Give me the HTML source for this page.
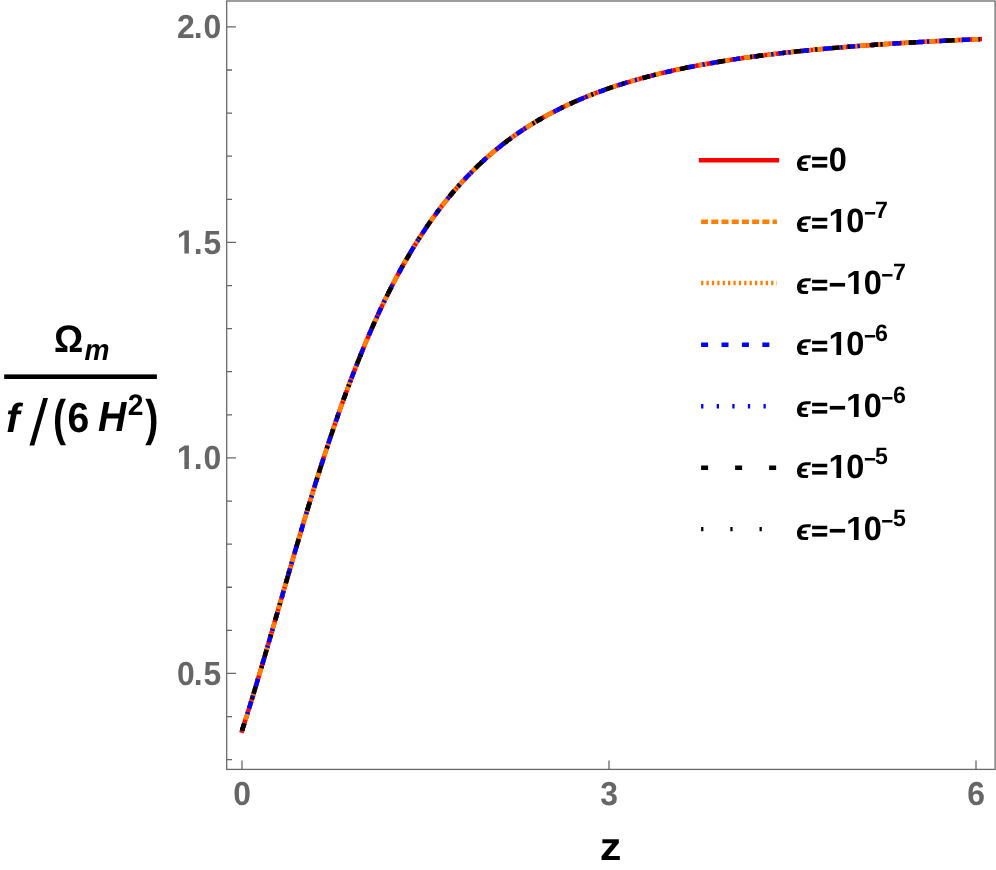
<!DOCTYPE html>
<html><head><meta charset="utf-8"><title>plot</title>
<style>
html,body{margin:0;padding:0;background:#fff;}
body{width:996px;height:870px;overflow:hidden;}
svg{display:block;will-change:transform;}
svg text{font-family:"Liberation Sans",sans-serif;font-weight:bold;text-rendering:geometricPrecision;}
</style></head><body>
<svg width="996" height="870" viewBox="0 0 996 870">
<rect width="996" height="870" fill="#fff"/>
<defs><clipPath id="c1"><path d="M-1,-30H20V-4.7H-1Z"/></clipPath></defs>
<rect x="226.7" y="1.0" width="768.40" height="768.40" fill="none" stroke="#666666" stroke-width="1.27"/>
<path d="M226.7,759.65h5.3 M226.7,716.55h5.3 M226.7,673.44h9.2 M226.7,630.34h5.3 M226.7,587.24h5.3 M226.7,544.14h5.3 M226.7,501.03h5.3 M226.7,457.93h9.2 M226.7,414.83h5.3 M226.7,371.72h5.3 M226.7,328.62h5.3 M226.7,285.52h5.3 M226.7,242.41h9.2 M226.7,199.31h5.3 M226.7,156.21h5.3 M226.7,113.11h5.3 M226.7,70.00h5.3 M226.7,26.90h9.2 M242.00,769.4v-8.8 M609.00,769.4v-8.8 M976.00,769.4v-8.8" fill="none" stroke="#666666" stroke-width="1.27"/>
<text transform="translate(221.30,38.00) scale(0.995,1.04)" font-size="32" fill="#666666" text-anchor="end">0</text>
<text transform="translate(202.59,38.00) scale(0.995,1.04)" font-size="32" fill="#666666" text-anchor="end">.</text>
<text transform="translate(194.74,38.00) scale(0.995,1.04)" font-size="32" fill="#666666" text-anchor="end">2</text>
<text transform="translate(221.30,253.51) scale(0.995,1.04)" font-size="32" fill="#666666" text-anchor="end">5</text>
<text transform="translate(202.59,253.51) scale(0.995,1.04)" font-size="32" fill="#666666" text-anchor="end">.</text>
<g transform="translate(176.74,253.51) scale(1.0249,1.0712)"><text font-size="32" fill="#666666" clip-path="url(#c1)">1</text><rect x="7.47" y="-5.2" width="4.39" height="5.2" fill="#666666"/></g>
<text transform="translate(221.30,469.03) scale(0.995,1.04)" font-size="32" fill="#666666" text-anchor="end">0</text>
<text transform="translate(202.59,469.03) scale(0.995,1.04)" font-size="32" fill="#666666" text-anchor="end">.</text>
<g transform="translate(176.74,469.03) scale(1.0249,1.0712)"><text font-size="32" fill="#666666" clip-path="url(#c1)">1</text><rect x="7.47" y="-5.2" width="4.39" height="5.2" fill="#666666"/></g>
<text transform="translate(221.30,684.54) scale(0.995,1.04)" font-size="32" fill="#666666" text-anchor="end">5</text>
<text transform="translate(202.59,684.54) scale(0.995,1.04)" font-size="32" fill="#666666" text-anchor="end">.</text>
<text transform="translate(194.74,684.54) scale(0.995,1.04)" font-size="32" fill="#666666" text-anchor="end">0</text>
<text transform="translate(242.00,804.60) scale(0.995,1.04)" font-size="32" fill="#666666" text-anchor="middle">0</text>
<text transform="translate(609.00,804.60) scale(0.995,1.04)" font-size="32" fill="#666666" text-anchor="middle">3</text>
<text transform="translate(976.00,804.60) scale(0.995,1.04)" font-size="32" fill="#666666" text-anchor="middle">6</text>
<text transform="translate(610.70,859.80) scale(1.07,0.97)" font-size="40.5" fill="#000" text-anchor="middle">z</text>
<rect x="4.2" y="374.4" width="152.7" height="4.6" fill="#000"/>
<text transform="translate(53.90,351.95) scale(0.95,1.0)" font-size="38.4" fill="#000">Ω</text>
<text transform="translate(84.60,359.95) scale(1.015,1.083)" font-size="27.7" fill="#000" font-style="italic">m</text>
<text transform="translate(5.95,432.00) scale(1.075,1.057)" font-size="38.4" fill="#000" font-style="italic">f</text>
<polygon points="29.5,445.4 34.3,445.4 48.0,398.0 43.2,398.0" fill="#000"/>
<text transform="translate(52.90,435.10) scale(1.02,1.3)" font-size="38.4" fill="#000">(</text>
<text transform="translate(67.45,431.50) scale(1.02,1.093)" font-size="38.4" fill="#000">6</text>
<text transform="translate(98.10,431.30) scale(1.02,1.1)" font-size="38.4" fill="#000" font-style="italic">H</text>
<text transform="translate(127.70,415.00) scale(1.02,1.075)" font-size="27.7" fill="#000">2</text>
<text transform="translate(145.20,435.10) scale(1.03,1.3)" font-size="38.4" fill="#000">)</text>
<path d="M242.00,730.61 L243.48,726.04 L244.96,721.42 L246.44,716.75 L247.91,712.05 L249.39,707.30 L250.87,702.52 L252.35,697.71 L253.83,692.86 L255.31,687.97 L256.78,683.06 L258.26,678.12 L259.74,673.15 L261.22,668.16 L262.70,663.15 L264.18,658.12 L265.65,653.07 L267.13,648.00 L268.61,642.91 L270.09,637.82 L271.57,632.71 L273.05,627.59 L274.52,622.47 L276.00,617.34 L277.48,612.20 L278.96,607.07 L280.44,601.93 L281.92,596.79 L283.39,591.66 L284.87,586.53 L286.35,581.41 L287.83,576.29 L289.31,571.18 L290.79,566.08 L292.26,561.00 L293.74,555.92 L295.22,550.86 L296.70,545.82 L298.18,540.79 L299.66,535.78 L301.13,530.79 L302.61,525.82 L304.09,520.88 L305.57,515.95 L307.05,511.05 L308.53,506.17 L310.00,501.32 L311.48,496.49 L312.96,491.69 L314.44,486.92 L315.92,482.18 L317.40,477.47 L318.88,472.78 L320.35,468.13 L321.83,463.51 L323.31,458.92 L324.79,454.37 L326.27,449.85 L327.75,445.36 L329.22,440.90 L330.70,436.49 L332.18,432.10 L333.66,427.75 L335.14,423.44 L336.62,419.16 L338.09,414.92 L339.57,410.72 L341.05,406.55 L342.53,402.42 L344.01,398.33 L345.49,394.28 L346.96,390.26 L348.44,386.28 L349.92,382.34 L351.40,378.44 L352.88,374.57 L354.36,370.74 L355.83,366.95 L357.31,363.20 L358.79,359.49 L360.27,355.81 L361.75,352.18 L363.23,348.58 L364.70,345.01 L366.18,341.49 L367.66,338.00 L369.14,334.55 L370.62,331.14 L372.10,327.76 L373.57,324.42 L375.05,321.12 L376.53,317.86 L378.01,314.63 L379.49,311.43 L380.97,308.28 L382.44,305.15 L383.92,302.07 L385.40,299.02 L386.88,296.00 L388.36,293.02 L389.84,290.07 L391.31,287.16 L392.79,284.28 L394.27,281.44 L395.75,278.62 L397.23,275.85 L398.71,273.10 L400.19,270.39 L401.66,267.70 L403.14,265.05 L404.62,262.44 L406.10,259.85 L407.58,257.29 L409.06,254.77 L410.53,252.28 L412.01,249.81 L413.49,247.38 L414.97,244.97 L416.45,242.60 L417.93,240.25 L419.40,237.93 L420.88,235.64 L422.36,233.38 L423.84,231.14 L425.32,228.94 L426.80,226.76 L428.27,224.60 L429.75,222.48 L431.23,220.37 L432.71,218.30 L434.19,216.25 L435.67,214.22 L437.14,212.23 L438.62,210.25 L440.10,208.30 L441.58,206.37 L443.06,204.47 L444.54,202.59 L446.01,200.74 L447.49,198.90 L448.97,197.09 L450.45,195.30 L451.93,193.54 L453.41,191.79 L454.88,190.07 L456.36,188.37 L457.84,186.69 L459.32,185.03 L460.80,183.39 L462.28,181.77 L463.75,180.17 L465.23,178.59 L466.71,177.03 L468.19,175.49 L469.67,173.97 L471.15,172.46 L472.63,170.98 L474.10,169.51 L475.58,168.06 L477.06,166.63 L478.54,165.22 L480.02,163.82 L481.50,162.44 L482.97,161.08 L484.45,159.73 L485.93,158.40 L487.41,157.09 L488.89,155.79 L490.37,154.51 L491.84,153.24 L493.32,151.99 L494.80,150.75 L496.28,149.53 L497.76,148.33 L499.24,147.14 L500.71,145.96 L502.19,144.79 L503.67,143.65 L505.15,142.51 L506.63,141.39 L508.11,140.28 L509.58,139.18 L511.06,138.10 L512.54,137.03 L514.02,135.98 L515.50,134.93 L516.98,133.90 L518.45,132.88 L519.93,131.87 L521.41,130.88 L522.89,129.89 L524.37,128.92 L525.85,127.96 L527.32,127.01 L528.80,126.07 L530.28,125.14 L531.76,124.23 L533.24,123.32 L534.72,122.43 L536.19,121.54 L537.67,120.67 L539.15,119.80 L540.63,118.95 L542.11,118.10 L543.59,117.26 L545.07,116.44 L546.54,115.62 L548.02,114.82 L549.50,114.02 L550.98,113.23 L552.46,112.45 L553.94,111.68 L555.41,110.92 L556.89,110.16 L558.37,109.42 L559.85,108.68 L561.33,107.95 L562.81,107.23 L564.28,106.52 L565.76,105.82 L567.24,105.12 L568.72,104.43 L570.20,103.75 L571.68,103.08 L573.15,102.42 L574.63,101.76 L576.11,101.11 L577.59,100.46 L579.07,99.83 L580.55,99.20 L582.02,98.57 L583.50,97.96 L584.98,97.35 L586.46,96.74 L587.94,96.15 L589.42,95.56 L590.89,94.98 L592.37,94.40 L593.85,93.83 L595.33,93.26 L596.81,92.71 L598.29,92.15 L599.76,91.61 L601.24,91.07 L602.72,90.53 L604.20,90.00 L605.68,89.48 L607.16,88.96 L608.63,88.45 L610.11,87.94 L611.59,87.44 L613.07,86.94 L614.55,86.45 L616.03,85.96 L617.50,85.48 L618.98,85.01 L620.46,84.54 L621.94,84.07 L623.42,83.61 L624.90,83.15 L626.38,82.70 L627.85,82.25 L629.33,81.81 L630.81,81.37 L632.29,80.94 L633.77,80.51 L635.25,80.08 L636.72,79.66 L638.20,79.25 L639.68,78.84 L641.16,78.43 L642.64,78.02 L644.12,77.63 L645.59,77.23 L647.07,76.84 L648.55,76.45 L650.03,76.07 L651.51,75.69 L652.99,75.31 L654.46,74.94 L655.94,74.57 L657.42,74.20 L658.90,73.84 L660.38,73.48 L661.86,73.13 L663.33,72.78 L664.81,72.43 L666.29,72.09 L667.77,71.75 L669.25,71.41 L670.73,71.08 L672.20,70.74 L673.68,70.42 L675.16,70.09 L676.64,69.77 L678.12,69.45 L679.60,69.14 L681.07,68.83 L682.55,68.52 L684.03,68.21 L685.51,67.91 L686.99,67.61 L688.47,67.31 L689.94,67.01 L691.42,66.72 L692.90,66.43 L694.38,66.15 L695.86,65.86 L697.34,65.58 L698.82,65.30 L700.29,65.03 L701.77,64.75 L703.25,64.48 L704.73,64.21 L706.21,63.95 L707.69,63.69 L709.16,63.42 L710.64,63.17 L712.12,62.91 L713.60,62.66 L715.08,62.40 L716.56,62.16 L718.03,61.91 L719.51,61.66 L720.99,61.42 L722.47,61.18 L723.95,60.94 L725.43,60.71 L726.90,60.47 L728.38,60.24 L729.86,60.01 L731.34,59.78 L732.82,59.56 L734.30,59.34 L735.77,59.11 L737.25,58.89 L738.73,58.68 L740.21,58.46 L741.69,58.25 L743.17,58.04 L744.64,57.83 L746.12,57.62 L747.60,57.41 L749.08,57.21 L750.56,57.00 L752.04,56.80 L753.51,56.60 L754.99,56.41 L756.47,56.21 L757.95,56.02 L759.43,55.82 L760.91,55.63 L762.38,55.44 L763.86,55.26 L765.34,55.07 L766.82,54.89 L768.30,54.70 L769.78,54.52 L771.26,54.34 L772.73,54.16 L774.21,53.99 L775.69,53.81 L777.17,53.64 L778.65,53.47 L780.13,53.30 L781.60,53.13 L783.08,52.96 L784.56,52.79 L786.04,52.63 L787.52,52.46 L789.00,52.30 L790.47,52.14 L791.95,51.98 L793.43,51.82 L794.91,51.66 L796.39,51.51 L797.87,51.35 L799.34,51.20 L800.82,51.05 L802.30,50.90 L803.78,50.75 L805.26,50.60 L806.74,50.45 L808.21,50.31 L809.69,50.16 L811.17,50.02 L812.65,49.88 L814.13,49.74 L815.61,49.60 L817.08,49.46 L818.56,49.32 L820.04,49.18 L821.52,49.05 L823.00,48.91 L824.48,48.78 L825.95,48.65 L827.43,48.51 L828.91,48.38 L830.39,48.25 L831.87,48.13 L833.35,48.00 L834.82,47.87 L836.30,47.75 L837.78,47.62 L839.26,47.50 L840.74,47.38 L842.22,47.26 L843.70,47.14 L845.17,47.02 L846.65,46.90 L848.13,46.78 L849.61,46.66 L851.09,46.55 L852.57,46.43 L854.04,46.32 L855.52,46.20 L857.00,46.09 L858.48,45.98 L859.96,45.87 L861.44,45.76 L862.91,45.65 L864.39,45.54 L865.87,45.44 L867.35,45.33 L868.83,45.22 L870.31,45.12 L871.78,45.01 L873.26,44.91 L874.74,44.81 L876.22,44.71 L877.70,44.60 L879.18,44.50 L880.65,44.40 L882.13,44.31 L883.61,44.21 L885.09,44.11 L886.57,44.01 L888.05,43.92 L889.52,43.82 L891.00,43.73 L892.48,43.63 L893.96,43.54 L895.44,43.45 L896.92,43.36 L898.39,43.26 L899.87,43.17 L901.35,43.08 L902.83,43.00 L904.31,42.91 L905.79,42.82 L907.26,42.73 L908.74,42.64 L910.22,42.56 L911.70,42.47 L913.18,42.39 L914.66,42.30 L916.13,42.22 L917.61,42.14 L919.09,42.05 L920.57,41.97 L922.05,41.89 L923.53,41.81 L925.01,41.73 L926.48,41.65 L927.96,41.57 L929.44,41.49 L930.92,41.42 L932.40,41.34 L933.88,41.26 L935.35,41.19 L936.83,41.11 L938.31,41.03 L939.79,40.96 L941.27,40.89 L942.75,40.81 L944.22,40.74 L945.70,40.67 L947.18,40.59 L948.66,40.52 L950.14,40.45 L951.62,40.38 L953.09,40.31 L954.57,40.24 L956.05,40.17 L957.53,40.10 L959.01,40.03 L960.49,39.97 L961.96,39.90 L963.44,39.83 L964.92,39.77 L966.40,39.70 L967.88,39.63 L969.36,39.57 L970.83,39.50 L972.31,39.44 L973.79,39.38 L975.27,39.31 L976.75,39.25 L978.23,39.19 L979.70,39.13" fill="none" stroke="#ff0000" stroke-width="4.5" stroke-linejoin="round" stroke-linecap="square"/>
<path d="M242.00,730.61 L243.48,726.04 L244.96,721.42 L246.44,716.75 L247.91,712.05 L249.39,707.30 L250.87,702.52 L252.35,697.71 L253.83,692.86 L255.31,687.97 L256.78,683.06 L258.26,678.12 L259.74,673.15 L261.22,668.16 L262.70,663.15 L264.18,658.12 L265.65,653.07 L267.13,648.00 L268.61,642.91 L270.09,637.82 L271.57,632.71 L273.05,627.59 L274.52,622.47 L276.00,617.34 L277.48,612.20 L278.96,607.07 L280.44,601.93 L281.92,596.79 L283.39,591.66 L284.87,586.53 L286.35,581.41 L287.83,576.29 L289.31,571.18 L290.79,566.08 L292.26,561.00 L293.74,555.92 L295.22,550.86 L296.70,545.82 L298.18,540.79 L299.66,535.78 L301.13,530.79 L302.61,525.82 L304.09,520.88 L305.57,515.95 L307.05,511.05 L308.53,506.17 L310.00,501.32 L311.48,496.49 L312.96,491.69 L314.44,486.92 L315.92,482.18 L317.40,477.47 L318.88,472.78 L320.35,468.13 L321.83,463.51 L323.31,458.92 L324.79,454.37 L326.27,449.85 L327.75,445.36 L329.22,440.90 L330.70,436.49 L332.18,432.10 L333.66,427.75 L335.14,423.44 L336.62,419.16 L338.09,414.92 L339.57,410.72 L341.05,406.55 L342.53,402.42 L344.01,398.33 L345.49,394.28 L346.96,390.26 L348.44,386.28 L349.92,382.34 L351.40,378.44 L352.88,374.57 L354.36,370.74 L355.83,366.95 L357.31,363.20 L358.79,359.49 L360.27,355.81 L361.75,352.18 L363.23,348.58 L364.70,345.01 L366.18,341.49 L367.66,338.00 L369.14,334.55 L370.62,331.14 L372.10,327.76 L373.57,324.42 L375.05,321.12 L376.53,317.86 L378.01,314.63 L379.49,311.43 L380.97,308.28 L382.44,305.15 L383.92,302.07 L385.40,299.02 L386.88,296.00 L388.36,293.02 L389.84,290.07 L391.31,287.16 L392.79,284.28 L394.27,281.44 L395.75,278.62 L397.23,275.85 L398.71,273.10 L400.19,270.39 L401.66,267.70 L403.14,265.05 L404.62,262.44 L406.10,259.85 L407.58,257.29 L409.06,254.77 L410.53,252.28 L412.01,249.81 L413.49,247.38 L414.97,244.97 L416.45,242.60 L417.93,240.25 L419.40,237.93 L420.88,235.64 L422.36,233.38 L423.84,231.14 L425.32,228.94 L426.80,226.76 L428.27,224.60 L429.75,222.48 L431.23,220.37 L432.71,218.30 L434.19,216.25 L435.67,214.22 L437.14,212.23 L438.62,210.25 L440.10,208.30 L441.58,206.37 L443.06,204.47 L444.54,202.59 L446.01,200.74 L447.49,198.90 L448.97,197.09 L450.45,195.30 L451.93,193.54 L453.41,191.79 L454.88,190.07 L456.36,188.37 L457.84,186.69 L459.32,185.03 L460.80,183.39 L462.28,181.77 L463.75,180.17 L465.23,178.59 L466.71,177.03 L468.19,175.49 L469.67,173.97 L471.15,172.46 L472.63,170.98 L474.10,169.51 L475.58,168.06 L477.06,166.63 L478.54,165.22 L480.02,163.82 L481.50,162.44 L482.97,161.08 L484.45,159.73 L485.93,158.40 L487.41,157.09 L488.89,155.79 L490.37,154.51 L491.84,153.24 L493.32,151.99 L494.80,150.75 L496.28,149.53 L497.76,148.33 L499.24,147.14 L500.71,145.96 L502.19,144.79 L503.67,143.65 L505.15,142.51 L506.63,141.39 L508.11,140.28 L509.58,139.18 L511.06,138.10 L512.54,137.03 L514.02,135.98 L515.50,134.93 L516.98,133.90 L518.45,132.88 L519.93,131.87 L521.41,130.88 L522.89,129.89 L524.37,128.92 L525.85,127.96 L527.32,127.01 L528.80,126.07 L530.28,125.14 L531.76,124.23 L533.24,123.32 L534.72,122.43 L536.19,121.54 L537.67,120.67 L539.15,119.80 L540.63,118.95 L542.11,118.10 L543.59,117.26 L545.07,116.44 L546.54,115.62 L548.02,114.82 L549.50,114.02 L550.98,113.23 L552.46,112.45 L553.94,111.68 L555.41,110.92 L556.89,110.16 L558.37,109.42 L559.85,108.68 L561.33,107.95 L562.81,107.23 L564.28,106.52 L565.76,105.82 L567.24,105.12 L568.72,104.43 L570.20,103.75 L571.68,103.08 L573.15,102.42 L574.63,101.76 L576.11,101.11 L577.59,100.46 L579.07,99.83 L580.55,99.20 L582.02,98.57 L583.50,97.96 L584.98,97.35 L586.46,96.74 L587.94,96.15 L589.42,95.56 L590.89,94.98 L592.37,94.40 L593.85,93.83 L595.33,93.26 L596.81,92.71 L598.29,92.15 L599.76,91.61 L601.24,91.07 L602.72,90.53 L604.20,90.00 L605.68,89.48 L607.16,88.96 L608.63,88.45 L610.11,87.94 L611.59,87.44 L613.07,86.94 L614.55,86.45 L616.03,85.96 L617.50,85.48 L618.98,85.01 L620.46,84.54 L621.94,84.07 L623.42,83.61 L624.90,83.15 L626.38,82.70 L627.85,82.25 L629.33,81.81 L630.81,81.37 L632.29,80.94 L633.77,80.51 L635.25,80.08 L636.72,79.66 L638.20,79.25 L639.68,78.84 L641.16,78.43 L642.64,78.02 L644.12,77.63 L645.59,77.23 L647.07,76.84 L648.55,76.45 L650.03,76.07 L651.51,75.69 L652.99,75.31 L654.46,74.94 L655.94,74.57 L657.42,74.20 L658.90,73.84 L660.38,73.48 L661.86,73.13 L663.33,72.78 L664.81,72.43 L666.29,72.09 L667.77,71.75 L669.25,71.41 L670.73,71.08 L672.20,70.74 L673.68,70.42 L675.16,70.09 L676.64,69.77 L678.12,69.45 L679.60,69.14 L681.07,68.83 L682.55,68.52 L684.03,68.21 L685.51,67.91 L686.99,67.61 L688.47,67.31 L689.94,67.01 L691.42,66.72 L692.90,66.43 L694.38,66.15 L695.86,65.86 L697.34,65.58 L698.82,65.30 L700.29,65.03 L701.77,64.75 L703.25,64.48 L704.73,64.21 L706.21,63.95 L707.69,63.69 L709.16,63.42 L710.64,63.17 L712.12,62.91 L713.60,62.66 L715.08,62.40 L716.56,62.16 L718.03,61.91 L719.51,61.66 L720.99,61.42 L722.47,61.18 L723.95,60.94 L725.43,60.71 L726.90,60.47 L728.38,60.24 L729.86,60.01 L731.34,59.78 L732.82,59.56 L734.30,59.34 L735.77,59.11 L737.25,58.89 L738.73,58.68 L740.21,58.46 L741.69,58.25 L743.17,58.04 L744.64,57.83 L746.12,57.62 L747.60,57.41 L749.08,57.21 L750.56,57.00 L752.04,56.80 L753.51,56.60 L754.99,56.41 L756.47,56.21 L757.95,56.02 L759.43,55.82 L760.91,55.63 L762.38,55.44 L763.86,55.26 L765.34,55.07 L766.82,54.89 L768.30,54.70 L769.78,54.52 L771.26,54.34 L772.73,54.16 L774.21,53.99 L775.69,53.81 L777.17,53.64 L778.65,53.47 L780.13,53.30 L781.60,53.13 L783.08,52.96 L784.56,52.79 L786.04,52.63 L787.52,52.46 L789.00,52.30 L790.47,52.14 L791.95,51.98 L793.43,51.82 L794.91,51.66 L796.39,51.51 L797.87,51.35 L799.34,51.20 L800.82,51.05 L802.30,50.90 L803.78,50.75 L805.26,50.60 L806.74,50.45 L808.21,50.31 L809.69,50.16 L811.17,50.02 L812.65,49.88 L814.13,49.74 L815.61,49.60 L817.08,49.46 L818.56,49.32 L820.04,49.18 L821.52,49.05 L823.00,48.91 L824.48,48.78 L825.95,48.65 L827.43,48.51 L828.91,48.38 L830.39,48.25 L831.87,48.13 L833.35,48.00 L834.82,47.87 L836.30,47.75 L837.78,47.62 L839.26,47.50 L840.74,47.38 L842.22,47.26 L843.70,47.14 L845.17,47.02 L846.65,46.90 L848.13,46.78 L849.61,46.66 L851.09,46.55 L852.57,46.43 L854.04,46.32 L855.52,46.20 L857.00,46.09 L858.48,45.98 L859.96,45.87 L861.44,45.76 L862.91,45.65 L864.39,45.54 L865.87,45.44 L867.35,45.33 L868.83,45.22 L870.31,45.12 L871.78,45.01 L873.26,44.91 L874.74,44.81 L876.22,44.71 L877.70,44.60 L879.18,44.50 L880.65,44.40 L882.13,44.31 L883.61,44.21 L885.09,44.11 L886.57,44.01 L888.05,43.92 L889.52,43.82 L891.00,43.73 L892.48,43.63 L893.96,43.54 L895.44,43.45 L896.92,43.36 L898.39,43.26 L899.87,43.17 L901.35,43.08 L902.83,43.00 L904.31,42.91 L905.79,42.82 L907.26,42.73 L908.74,42.64 L910.22,42.56 L911.70,42.47 L913.18,42.39 L914.66,42.30 L916.13,42.22 L917.61,42.14 L919.09,42.05 L920.57,41.97 L922.05,41.89 L923.53,41.81 L925.01,41.73 L926.48,41.65 L927.96,41.57 L929.44,41.49 L930.92,41.42 L932.40,41.34 L933.88,41.26 L935.35,41.19 L936.83,41.11 L938.31,41.03 L939.79,40.96 L941.27,40.89 L942.75,40.81 L944.22,40.74 L945.70,40.67 L947.18,40.59 L948.66,40.52 L950.14,40.45 L951.62,40.38 L953.09,40.31 L954.57,40.24 L956.05,40.17 L957.53,40.10 L959.01,40.03 L960.49,39.97 L961.96,39.90 L963.44,39.83 L964.92,39.77 L966.40,39.70 L967.88,39.63 L969.36,39.57 L970.83,39.50 L972.31,39.44 L973.79,39.38 L975.27,39.31 L976.75,39.25 L978.23,39.19 L979.70,39.13" fill="none" stroke="#ff8000" stroke-width="4.5" stroke-linejoin="round" stroke-dasharray="7.75 3.776"/>
<path d="M242.00,730.61 L243.48,726.04 L244.96,721.42 L246.44,716.75 L247.91,712.05 L249.39,707.30 L250.87,702.52 L252.35,697.71 L253.83,692.86 L255.31,687.97 L256.78,683.06 L258.26,678.12 L259.74,673.15 L261.22,668.16 L262.70,663.15 L264.18,658.12 L265.65,653.07 L267.13,648.00 L268.61,642.91 L270.09,637.82 L271.57,632.71 L273.05,627.59 L274.52,622.47 L276.00,617.34 L277.48,612.20 L278.96,607.07 L280.44,601.93 L281.92,596.79 L283.39,591.66 L284.87,586.53 L286.35,581.41 L287.83,576.29 L289.31,571.18 L290.79,566.08 L292.26,561.00 L293.74,555.92 L295.22,550.86 L296.70,545.82 L298.18,540.79 L299.66,535.78 L301.13,530.79 L302.61,525.82 L304.09,520.88 L305.57,515.95 L307.05,511.05 L308.53,506.17 L310.00,501.32 L311.48,496.49 L312.96,491.69 L314.44,486.92 L315.92,482.18 L317.40,477.47 L318.88,472.78 L320.35,468.13 L321.83,463.51 L323.31,458.92 L324.79,454.37 L326.27,449.85 L327.75,445.36 L329.22,440.90 L330.70,436.49 L332.18,432.10 L333.66,427.75 L335.14,423.44 L336.62,419.16 L338.09,414.92 L339.57,410.72 L341.05,406.55 L342.53,402.42 L344.01,398.33 L345.49,394.28 L346.96,390.26 L348.44,386.28 L349.92,382.34 L351.40,378.44 L352.88,374.57 L354.36,370.74 L355.83,366.95 L357.31,363.20 L358.79,359.49 L360.27,355.81 L361.75,352.18 L363.23,348.58 L364.70,345.01 L366.18,341.49 L367.66,338.00 L369.14,334.55 L370.62,331.14 L372.10,327.76 L373.57,324.42 L375.05,321.12 L376.53,317.86 L378.01,314.63 L379.49,311.43 L380.97,308.28 L382.44,305.15 L383.92,302.07 L385.40,299.02 L386.88,296.00 L388.36,293.02 L389.84,290.07 L391.31,287.16 L392.79,284.28 L394.27,281.44 L395.75,278.62 L397.23,275.85 L398.71,273.10 L400.19,270.39 L401.66,267.70 L403.14,265.05 L404.62,262.44 L406.10,259.85 L407.58,257.29 L409.06,254.77 L410.53,252.28 L412.01,249.81 L413.49,247.38 L414.97,244.97 L416.45,242.60 L417.93,240.25 L419.40,237.93 L420.88,235.64 L422.36,233.38 L423.84,231.14 L425.32,228.94 L426.80,226.76 L428.27,224.60 L429.75,222.48 L431.23,220.37 L432.71,218.30 L434.19,216.25 L435.67,214.22 L437.14,212.23 L438.62,210.25 L440.10,208.30 L441.58,206.37 L443.06,204.47 L444.54,202.59 L446.01,200.74 L447.49,198.90 L448.97,197.09 L450.45,195.30 L451.93,193.54 L453.41,191.79 L454.88,190.07 L456.36,188.37 L457.84,186.69 L459.32,185.03 L460.80,183.39 L462.28,181.77 L463.75,180.17 L465.23,178.59 L466.71,177.03 L468.19,175.49 L469.67,173.97 L471.15,172.46 L472.63,170.98 L474.10,169.51 L475.58,168.06 L477.06,166.63 L478.54,165.22 L480.02,163.82 L481.50,162.44 L482.97,161.08 L484.45,159.73 L485.93,158.40 L487.41,157.09 L488.89,155.79 L490.37,154.51 L491.84,153.24 L493.32,151.99 L494.80,150.75 L496.28,149.53 L497.76,148.33 L499.24,147.14 L500.71,145.96 L502.19,144.79 L503.67,143.65 L505.15,142.51 L506.63,141.39 L508.11,140.28 L509.58,139.18 L511.06,138.10 L512.54,137.03 L514.02,135.98 L515.50,134.93 L516.98,133.90 L518.45,132.88 L519.93,131.87 L521.41,130.88 L522.89,129.89 L524.37,128.92 L525.85,127.96 L527.32,127.01 L528.80,126.07 L530.28,125.14 L531.76,124.23 L533.24,123.32 L534.72,122.43 L536.19,121.54 L537.67,120.67 L539.15,119.80 L540.63,118.95 L542.11,118.10 L543.59,117.26 L545.07,116.44 L546.54,115.62 L548.02,114.82 L549.50,114.02 L550.98,113.23 L552.46,112.45 L553.94,111.68 L555.41,110.92 L556.89,110.16 L558.37,109.42 L559.85,108.68 L561.33,107.95 L562.81,107.23 L564.28,106.52 L565.76,105.82 L567.24,105.12 L568.72,104.43 L570.20,103.75 L571.68,103.08 L573.15,102.42 L574.63,101.76 L576.11,101.11 L577.59,100.46 L579.07,99.83 L580.55,99.20 L582.02,98.57 L583.50,97.96 L584.98,97.35 L586.46,96.74 L587.94,96.15 L589.42,95.56 L590.89,94.98 L592.37,94.40 L593.85,93.83 L595.33,93.26 L596.81,92.71 L598.29,92.15 L599.76,91.61 L601.24,91.07 L602.72,90.53 L604.20,90.00 L605.68,89.48 L607.16,88.96 L608.63,88.45 L610.11,87.94 L611.59,87.44 L613.07,86.94 L614.55,86.45 L616.03,85.96 L617.50,85.48 L618.98,85.01 L620.46,84.54 L621.94,84.07 L623.42,83.61 L624.90,83.15 L626.38,82.70 L627.85,82.25 L629.33,81.81 L630.81,81.37 L632.29,80.94 L633.77,80.51 L635.25,80.08 L636.72,79.66 L638.20,79.25 L639.68,78.84 L641.16,78.43 L642.64,78.02 L644.12,77.63 L645.59,77.23 L647.07,76.84 L648.55,76.45 L650.03,76.07 L651.51,75.69 L652.99,75.31 L654.46,74.94 L655.94,74.57 L657.42,74.20 L658.90,73.84 L660.38,73.48 L661.86,73.13 L663.33,72.78 L664.81,72.43 L666.29,72.09 L667.77,71.75 L669.25,71.41 L670.73,71.08 L672.20,70.74 L673.68,70.42 L675.16,70.09 L676.64,69.77 L678.12,69.45 L679.60,69.14 L681.07,68.83 L682.55,68.52 L684.03,68.21 L685.51,67.91 L686.99,67.61 L688.47,67.31 L689.94,67.01 L691.42,66.72 L692.90,66.43 L694.38,66.15 L695.86,65.86 L697.34,65.58 L698.82,65.30 L700.29,65.03 L701.77,64.75 L703.25,64.48 L704.73,64.21 L706.21,63.95 L707.69,63.69 L709.16,63.42 L710.64,63.17 L712.12,62.91 L713.60,62.66 L715.08,62.40 L716.56,62.16 L718.03,61.91 L719.51,61.66 L720.99,61.42 L722.47,61.18 L723.95,60.94 L725.43,60.71 L726.90,60.47 L728.38,60.24 L729.86,60.01 L731.34,59.78 L732.82,59.56 L734.30,59.34 L735.77,59.11 L737.25,58.89 L738.73,58.68 L740.21,58.46 L741.69,58.25 L743.17,58.04 L744.64,57.83 L746.12,57.62 L747.60,57.41 L749.08,57.21 L750.56,57.00 L752.04,56.80 L753.51,56.60 L754.99,56.41 L756.47,56.21 L757.95,56.02 L759.43,55.82 L760.91,55.63 L762.38,55.44 L763.86,55.26 L765.34,55.07 L766.82,54.89 L768.30,54.70 L769.78,54.52 L771.26,54.34 L772.73,54.16 L774.21,53.99 L775.69,53.81 L777.17,53.64 L778.65,53.47 L780.13,53.30 L781.60,53.13 L783.08,52.96 L784.56,52.79 L786.04,52.63 L787.52,52.46 L789.00,52.30 L790.47,52.14 L791.95,51.98 L793.43,51.82 L794.91,51.66 L796.39,51.51 L797.87,51.35 L799.34,51.20 L800.82,51.05 L802.30,50.90 L803.78,50.75 L805.26,50.60 L806.74,50.45 L808.21,50.31 L809.69,50.16 L811.17,50.02 L812.65,49.88 L814.13,49.74 L815.61,49.60 L817.08,49.46 L818.56,49.32 L820.04,49.18 L821.52,49.05 L823.00,48.91 L824.48,48.78 L825.95,48.65 L827.43,48.51 L828.91,48.38 L830.39,48.25 L831.87,48.13 L833.35,48.00 L834.82,47.87 L836.30,47.75 L837.78,47.62 L839.26,47.50 L840.74,47.38 L842.22,47.26 L843.70,47.14 L845.17,47.02 L846.65,46.90 L848.13,46.78 L849.61,46.66 L851.09,46.55 L852.57,46.43 L854.04,46.32 L855.52,46.20 L857.00,46.09 L858.48,45.98 L859.96,45.87 L861.44,45.76 L862.91,45.65 L864.39,45.54 L865.87,45.44 L867.35,45.33 L868.83,45.22 L870.31,45.12 L871.78,45.01 L873.26,44.91 L874.74,44.81 L876.22,44.71 L877.70,44.60 L879.18,44.50 L880.65,44.40 L882.13,44.31 L883.61,44.21 L885.09,44.11 L886.57,44.01 L888.05,43.92 L889.52,43.82 L891.00,43.73 L892.48,43.63 L893.96,43.54 L895.44,43.45 L896.92,43.36 L898.39,43.26 L899.87,43.17 L901.35,43.08 L902.83,43.00 L904.31,42.91 L905.79,42.82 L907.26,42.73 L908.74,42.64 L910.22,42.56 L911.70,42.47 L913.18,42.39 L914.66,42.30 L916.13,42.22 L917.61,42.14 L919.09,42.05 L920.57,41.97 L922.05,41.89 L923.53,41.81 L925.01,41.73 L926.48,41.65 L927.96,41.57 L929.44,41.49 L930.92,41.42 L932.40,41.34 L933.88,41.26 L935.35,41.19 L936.83,41.11 L938.31,41.03 L939.79,40.96 L941.27,40.89 L942.75,40.81 L944.22,40.74 L945.70,40.67 L947.18,40.59 L948.66,40.52 L950.14,40.45 L951.62,40.38 L953.09,40.31 L954.57,40.24 L956.05,40.17 L957.53,40.10 L959.01,40.03 L960.49,39.97 L961.96,39.90 L963.44,39.83 L964.92,39.77 L966.40,39.70 L967.88,39.63 L969.36,39.57 L970.83,39.50 L972.31,39.44 L973.79,39.38 L975.27,39.31 L976.75,39.25 L978.23,39.19 L979.70,39.13" fill="none" stroke="#ff8000" stroke-width="4.5" stroke-linejoin="round" stroke-dasharray="2.25 3.592"/>
<path d="M242.00,730.61 L243.48,726.04 L244.96,721.42 L246.44,716.75 L247.91,712.05 L249.39,707.30 L250.87,702.52 L252.35,697.71 L253.83,692.86 L255.31,687.97 L256.78,683.06 L258.26,678.12 L259.74,673.15 L261.22,668.16 L262.70,663.15 L264.18,658.12 L265.65,653.07 L267.13,648.00 L268.61,642.91 L270.09,637.82 L271.57,632.71 L273.05,627.59 L274.52,622.47 L276.00,617.34 L277.48,612.20 L278.96,607.07 L280.44,601.93 L281.92,596.79 L283.39,591.66 L284.87,586.53 L286.35,581.41 L287.83,576.29 L289.31,571.18 L290.79,566.08 L292.26,561.00 L293.74,555.92 L295.22,550.86 L296.70,545.82 L298.18,540.79 L299.66,535.78 L301.13,530.79 L302.61,525.82 L304.09,520.88 L305.57,515.95 L307.05,511.05 L308.53,506.17 L310.00,501.32 L311.48,496.49 L312.96,491.69 L314.44,486.92 L315.92,482.18 L317.40,477.47 L318.88,472.78 L320.35,468.13 L321.83,463.51 L323.31,458.92 L324.79,454.37 L326.27,449.85 L327.75,445.36 L329.22,440.90 L330.70,436.49 L332.18,432.10 L333.66,427.75 L335.14,423.44 L336.62,419.16 L338.09,414.92 L339.57,410.72 L341.05,406.55 L342.53,402.42 L344.01,398.33 L345.49,394.28 L346.96,390.26 L348.44,386.28 L349.92,382.34 L351.40,378.44 L352.88,374.57 L354.36,370.74 L355.83,366.95 L357.31,363.20 L358.79,359.49 L360.27,355.81 L361.75,352.18 L363.23,348.58 L364.70,345.01 L366.18,341.49 L367.66,338.00 L369.14,334.55 L370.62,331.14 L372.10,327.76 L373.57,324.42 L375.05,321.12 L376.53,317.86 L378.01,314.63 L379.49,311.43 L380.97,308.28 L382.44,305.15 L383.92,302.07 L385.40,299.02 L386.88,296.00 L388.36,293.02 L389.84,290.07 L391.31,287.16 L392.79,284.28 L394.27,281.44 L395.75,278.62 L397.23,275.85 L398.71,273.10 L400.19,270.39 L401.66,267.70 L403.14,265.05 L404.62,262.44 L406.10,259.85 L407.58,257.29 L409.06,254.77 L410.53,252.28 L412.01,249.81 L413.49,247.38 L414.97,244.97 L416.45,242.60 L417.93,240.25 L419.40,237.93 L420.88,235.64 L422.36,233.38 L423.84,231.14 L425.32,228.94 L426.80,226.76 L428.27,224.60 L429.75,222.48 L431.23,220.37 L432.71,218.30 L434.19,216.25 L435.67,214.22 L437.14,212.23 L438.62,210.25 L440.10,208.30 L441.58,206.37 L443.06,204.47 L444.54,202.59 L446.01,200.74 L447.49,198.90 L448.97,197.09 L450.45,195.30 L451.93,193.54 L453.41,191.79 L454.88,190.07 L456.36,188.37 L457.84,186.69 L459.32,185.03 L460.80,183.39 L462.28,181.77 L463.75,180.17 L465.23,178.59 L466.71,177.03 L468.19,175.49 L469.67,173.97 L471.15,172.46 L472.63,170.98 L474.10,169.51 L475.58,168.06 L477.06,166.63 L478.54,165.22 L480.02,163.82 L481.50,162.44 L482.97,161.08 L484.45,159.73 L485.93,158.40 L487.41,157.09 L488.89,155.79 L490.37,154.51 L491.84,153.24 L493.32,151.99 L494.80,150.75 L496.28,149.53 L497.76,148.33 L499.24,147.14 L500.71,145.96 L502.19,144.79 L503.67,143.65 L505.15,142.51 L506.63,141.39 L508.11,140.28 L509.58,139.18 L511.06,138.10 L512.54,137.03 L514.02,135.98 L515.50,134.93 L516.98,133.90 L518.45,132.88 L519.93,131.87 L521.41,130.88 L522.89,129.89 L524.37,128.92 L525.85,127.96 L527.32,127.01 L528.80,126.07 L530.28,125.14 L531.76,124.23 L533.24,123.32 L534.72,122.43 L536.19,121.54 L537.67,120.67 L539.15,119.80 L540.63,118.95 L542.11,118.10 L543.59,117.26 L545.07,116.44 L546.54,115.62 L548.02,114.82 L549.50,114.02 L550.98,113.23 L552.46,112.45 L553.94,111.68 L555.41,110.92 L556.89,110.16 L558.37,109.42 L559.85,108.68 L561.33,107.95 L562.81,107.23 L564.28,106.52 L565.76,105.82 L567.24,105.12 L568.72,104.43 L570.20,103.75 L571.68,103.08 L573.15,102.42 L574.63,101.76 L576.11,101.11 L577.59,100.46 L579.07,99.83 L580.55,99.20 L582.02,98.57 L583.50,97.96 L584.98,97.35 L586.46,96.74 L587.94,96.15 L589.42,95.56 L590.89,94.98 L592.37,94.40 L593.85,93.83 L595.33,93.26 L596.81,92.71 L598.29,92.15 L599.76,91.61 L601.24,91.07 L602.72,90.53 L604.20,90.00 L605.68,89.48 L607.16,88.96 L608.63,88.45 L610.11,87.94 L611.59,87.44 L613.07,86.94 L614.55,86.45 L616.03,85.96 L617.50,85.48 L618.98,85.01 L620.46,84.54 L621.94,84.07 L623.42,83.61 L624.90,83.15 L626.38,82.70 L627.85,82.25 L629.33,81.81 L630.81,81.37 L632.29,80.94 L633.77,80.51 L635.25,80.08 L636.72,79.66 L638.20,79.25 L639.68,78.84 L641.16,78.43 L642.64,78.02 L644.12,77.63 L645.59,77.23 L647.07,76.84 L648.55,76.45 L650.03,76.07 L651.51,75.69 L652.99,75.31 L654.46,74.94 L655.94,74.57 L657.42,74.20 L658.90,73.84 L660.38,73.48 L661.86,73.13 L663.33,72.78 L664.81,72.43 L666.29,72.09 L667.77,71.75 L669.25,71.41 L670.73,71.08 L672.20,70.74 L673.68,70.42 L675.16,70.09 L676.64,69.77 L678.12,69.45 L679.60,69.14 L681.07,68.83 L682.55,68.52 L684.03,68.21 L685.51,67.91 L686.99,67.61 L688.47,67.31 L689.94,67.01 L691.42,66.72 L692.90,66.43 L694.38,66.15 L695.86,65.86 L697.34,65.58 L698.82,65.30 L700.29,65.03 L701.77,64.75 L703.25,64.48 L704.73,64.21 L706.21,63.95 L707.69,63.69 L709.16,63.42 L710.64,63.17 L712.12,62.91 L713.60,62.66 L715.08,62.40 L716.56,62.16 L718.03,61.91 L719.51,61.66 L720.99,61.42 L722.47,61.18 L723.95,60.94 L725.43,60.71 L726.90,60.47 L728.38,60.24 L729.86,60.01 L731.34,59.78 L732.82,59.56 L734.30,59.34 L735.77,59.11 L737.25,58.89 L738.73,58.68 L740.21,58.46 L741.69,58.25 L743.17,58.04 L744.64,57.83 L746.12,57.62 L747.60,57.41 L749.08,57.21 L750.56,57.00 L752.04,56.80 L753.51,56.60 L754.99,56.41 L756.47,56.21 L757.95,56.02 L759.43,55.82 L760.91,55.63 L762.38,55.44 L763.86,55.26 L765.34,55.07 L766.82,54.89 L768.30,54.70 L769.78,54.52 L771.26,54.34 L772.73,54.16 L774.21,53.99 L775.69,53.81 L777.17,53.64 L778.65,53.47 L780.13,53.30 L781.60,53.13 L783.08,52.96 L784.56,52.79 L786.04,52.63 L787.52,52.46 L789.00,52.30 L790.47,52.14 L791.95,51.98 L793.43,51.82 L794.91,51.66 L796.39,51.51 L797.87,51.35 L799.34,51.20 L800.82,51.05 L802.30,50.90 L803.78,50.75 L805.26,50.60 L806.74,50.45 L808.21,50.31 L809.69,50.16 L811.17,50.02 L812.65,49.88 L814.13,49.74 L815.61,49.60 L817.08,49.46 L818.56,49.32 L820.04,49.18 L821.52,49.05 L823.00,48.91 L824.48,48.78 L825.95,48.65 L827.43,48.51 L828.91,48.38 L830.39,48.25 L831.87,48.13 L833.35,48.00 L834.82,47.87 L836.30,47.75 L837.78,47.62 L839.26,47.50 L840.74,47.38 L842.22,47.26 L843.70,47.14 L845.17,47.02 L846.65,46.90 L848.13,46.78 L849.61,46.66 L851.09,46.55 L852.57,46.43 L854.04,46.32 L855.52,46.20 L857.00,46.09 L858.48,45.98 L859.96,45.87 L861.44,45.76 L862.91,45.65 L864.39,45.54 L865.87,45.44 L867.35,45.33 L868.83,45.22 L870.31,45.12 L871.78,45.01 L873.26,44.91 L874.74,44.81 L876.22,44.71 L877.70,44.60 L879.18,44.50 L880.65,44.40 L882.13,44.31 L883.61,44.21 L885.09,44.11 L886.57,44.01 L888.05,43.92 L889.52,43.82 L891.00,43.73 L892.48,43.63 L893.96,43.54 L895.44,43.45 L896.92,43.36 L898.39,43.26 L899.87,43.17 L901.35,43.08 L902.83,43.00 L904.31,42.91 L905.79,42.82 L907.26,42.73 L908.74,42.64 L910.22,42.56 L911.70,42.47 L913.18,42.39 L914.66,42.30 L916.13,42.22 L917.61,42.14 L919.09,42.05 L920.57,41.97 L922.05,41.89 L923.53,41.81 L925.01,41.73 L926.48,41.65 L927.96,41.57 L929.44,41.49 L930.92,41.42 L932.40,41.34 L933.88,41.26 L935.35,41.19 L936.83,41.11 L938.31,41.03 L939.79,40.96 L941.27,40.89 L942.75,40.81 L944.22,40.74 L945.70,40.67 L947.18,40.59 L948.66,40.52 L950.14,40.45 L951.62,40.38 L953.09,40.31 L954.57,40.24 L956.05,40.17 L957.53,40.10 L959.01,40.03 L960.49,39.97 L961.96,39.90 L963.44,39.83 L964.92,39.77 L966.40,39.70 L967.88,39.63 L969.36,39.57 L970.83,39.50 L972.31,39.44 L973.79,39.38 L975.27,39.31 L976.75,39.25 L978.23,39.19 L979.70,39.13" fill="none" stroke="#0000ff" stroke-width="4.5" stroke-linejoin="round" stroke-dasharray="7.75 15.302"/>
<path d="M242.00,730.61 L243.48,726.04 L244.96,721.42 L246.44,716.75 L247.91,712.05 L249.39,707.30 L250.87,702.52 L252.35,697.71 L253.83,692.86 L255.31,687.97 L256.78,683.06 L258.26,678.12 L259.74,673.15 L261.22,668.16 L262.70,663.15 L264.18,658.12 L265.65,653.07 L267.13,648.00 L268.61,642.91 L270.09,637.82 L271.57,632.71 L273.05,627.59 L274.52,622.47 L276.00,617.34 L277.48,612.20 L278.96,607.07 L280.44,601.93 L281.92,596.79 L283.39,591.66 L284.87,586.53 L286.35,581.41 L287.83,576.29 L289.31,571.18 L290.79,566.08 L292.26,561.00 L293.74,555.92 L295.22,550.86 L296.70,545.82 L298.18,540.79 L299.66,535.78 L301.13,530.79 L302.61,525.82 L304.09,520.88 L305.57,515.95 L307.05,511.05 L308.53,506.17 L310.00,501.32 L311.48,496.49 L312.96,491.69 L314.44,486.92 L315.92,482.18 L317.40,477.47 L318.88,472.78 L320.35,468.13 L321.83,463.51 L323.31,458.92 L324.79,454.37 L326.27,449.85 L327.75,445.36 L329.22,440.90 L330.70,436.49 L332.18,432.10 L333.66,427.75 L335.14,423.44 L336.62,419.16 L338.09,414.92 L339.57,410.72 L341.05,406.55 L342.53,402.42 L344.01,398.33 L345.49,394.28 L346.96,390.26 L348.44,386.28 L349.92,382.34 L351.40,378.44 L352.88,374.57 L354.36,370.74 L355.83,366.95 L357.31,363.20 L358.79,359.49 L360.27,355.81 L361.75,352.18 L363.23,348.58 L364.70,345.01 L366.18,341.49 L367.66,338.00 L369.14,334.55 L370.62,331.14 L372.10,327.76 L373.57,324.42 L375.05,321.12 L376.53,317.86 L378.01,314.63 L379.49,311.43 L380.97,308.28 L382.44,305.15 L383.92,302.07 L385.40,299.02 L386.88,296.00 L388.36,293.02 L389.84,290.07 L391.31,287.16 L392.79,284.28 L394.27,281.44 L395.75,278.62 L397.23,275.85 L398.71,273.10 L400.19,270.39 L401.66,267.70 L403.14,265.05 L404.62,262.44 L406.10,259.85 L407.58,257.29 L409.06,254.77 L410.53,252.28 L412.01,249.81 L413.49,247.38 L414.97,244.97 L416.45,242.60 L417.93,240.25 L419.40,237.93 L420.88,235.64 L422.36,233.38 L423.84,231.14 L425.32,228.94 L426.80,226.76 L428.27,224.60 L429.75,222.48 L431.23,220.37 L432.71,218.30 L434.19,216.25 L435.67,214.22 L437.14,212.23 L438.62,210.25 L440.10,208.30 L441.58,206.37 L443.06,204.47 L444.54,202.59 L446.01,200.74 L447.49,198.90 L448.97,197.09 L450.45,195.30 L451.93,193.54 L453.41,191.79 L454.88,190.07 L456.36,188.37 L457.84,186.69 L459.32,185.03 L460.80,183.39 L462.28,181.77 L463.75,180.17 L465.23,178.59 L466.71,177.03 L468.19,175.49 L469.67,173.97 L471.15,172.46 L472.63,170.98 L474.10,169.51 L475.58,168.06 L477.06,166.63 L478.54,165.22 L480.02,163.82 L481.50,162.44 L482.97,161.08 L484.45,159.73 L485.93,158.40 L487.41,157.09 L488.89,155.79 L490.37,154.51 L491.84,153.24 L493.32,151.99 L494.80,150.75 L496.28,149.53 L497.76,148.33 L499.24,147.14 L500.71,145.96 L502.19,144.79 L503.67,143.65 L505.15,142.51 L506.63,141.39 L508.11,140.28 L509.58,139.18 L511.06,138.10 L512.54,137.03 L514.02,135.98 L515.50,134.93 L516.98,133.90 L518.45,132.88 L519.93,131.87 L521.41,130.88 L522.89,129.89 L524.37,128.92 L525.85,127.96 L527.32,127.01 L528.80,126.07 L530.28,125.14 L531.76,124.23 L533.24,123.32 L534.72,122.43 L536.19,121.54 L537.67,120.67 L539.15,119.80 L540.63,118.95 L542.11,118.10 L543.59,117.26 L545.07,116.44 L546.54,115.62 L548.02,114.82 L549.50,114.02 L550.98,113.23 L552.46,112.45 L553.94,111.68 L555.41,110.92 L556.89,110.16 L558.37,109.42 L559.85,108.68 L561.33,107.95 L562.81,107.23 L564.28,106.52 L565.76,105.82 L567.24,105.12 L568.72,104.43 L570.20,103.75 L571.68,103.08 L573.15,102.42 L574.63,101.76 L576.11,101.11 L577.59,100.46 L579.07,99.83 L580.55,99.20 L582.02,98.57 L583.50,97.96 L584.98,97.35 L586.46,96.74 L587.94,96.15 L589.42,95.56 L590.89,94.98 L592.37,94.40 L593.85,93.83 L595.33,93.26 L596.81,92.71 L598.29,92.15 L599.76,91.61 L601.24,91.07 L602.72,90.53 L604.20,90.00 L605.68,89.48 L607.16,88.96 L608.63,88.45 L610.11,87.94 L611.59,87.44 L613.07,86.94 L614.55,86.45 L616.03,85.96 L617.50,85.48 L618.98,85.01 L620.46,84.54 L621.94,84.07 L623.42,83.61 L624.90,83.15 L626.38,82.70 L627.85,82.25 L629.33,81.81 L630.81,81.37 L632.29,80.94 L633.77,80.51 L635.25,80.08 L636.72,79.66 L638.20,79.25 L639.68,78.84 L641.16,78.43 L642.64,78.02 L644.12,77.63 L645.59,77.23 L647.07,76.84 L648.55,76.45 L650.03,76.07 L651.51,75.69 L652.99,75.31 L654.46,74.94 L655.94,74.57 L657.42,74.20 L658.90,73.84 L660.38,73.48 L661.86,73.13 L663.33,72.78 L664.81,72.43 L666.29,72.09 L667.77,71.75 L669.25,71.41 L670.73,71.08 L672.20,70.74 L673.68,70.42 L675.16,70.09 L676.64,69.77 L678.12,69.45 L679.60,69.14 L681.07,68.83 L682.55,68.52 L684.03,68.21 L685.51,67.91 L686.99,67.61 L688.47,67.31 L689.94,67.01 L691.42,66.72 L692.90,66.43 L694.38,66.15 L695.86,65.86 L697.34,65.58 L698.82,65.30 L700.29,65.03 L701.77,64.75 L703.25,64.48 L704.73,64.21 L706.21,63.95 L707.69,63.69 L709.16,63.42 L710.64,63.17 L712.12,62.91 L713.60,62.66 L715.08,62.40 L716.56,62.16 L718.03,61.91 L719.51,61.66 L720.99,61.42 L722.47,61.18 L723.95,60.94 L725.43,60.71 L726.90,60.47 L728.38,60.24 L729.86,60.01 L731.34,59.78 L732.82,59.56 L734.30,59.34 L735.77,59.11 L737.25,58.89 L738.73,58.68 L740.21,58.46 L741.69,58.25 L743.17,58.04 L744.64,57.83 L746.12,57.62 L747.60,57.41 L749.08,57.21 L750.56,57.00 L752.04,56.80 L753.51,56.60 L754.99,56.41 L756.47,56.21 L757.95,56.02 L759.43,55.82 L760.91,55.63 L762.38,55.44 L763.86,55.26 L765.34,55.07 L766.82,54.89 L768.30,54.70 L769.78,54.52 L771.26,54.34 L772.73,54.16 L774.21,53.99 L775.69,53.81 L777.17,53.64 L778.65,53.47 L780.13,53.30 L781.60,53.13 L783.08,52.96 L784.56,52.79 L786.04,52.63 L787.52,52.46 L789.00,52.30 L790.47,52.14 L791.95,51.98 L793.43,51.82 L794.91,51.66 L796.39,51.51 L797.87,51.35 L799.34,51.20 L800.82,51.05 L802.30,50.90 L803.78,50.75 L805.26,50.60 L806.74,50.45 L808.21,50.31 L809.69,50.16 L811.17,50.02 L812.65,49.88 L814.13,49.74 L815.61,49.60 L817.08,49.46 L818.56,49.32 L820.04,49.18 L821.52,49.05 L823.00,48.91 L824.48,48.78 L825.95,48.65 L827.43,48.51 L828.91,48.38 L830.39,48.25 L831.87,48.13 L833.35,48.00 L834.82,47.87 L836.30,47.75 L837.78,47.62 L839.26,47.50 L840.74,47.38 L842.22,47.26 L843.70,47.14 L845.17,47.02 L846.65,46.90 L848.13,46.78 L849.61,46.66 L851.09,46.55 L852.57,46.43 L854.04,46.32 L855.52,46.20 L857.00,46.09 L858.48,45.98 L859.96,45.87 L861.44,45.76 L862.91,45.65 L864.39,45.54 L865.87,45.44 L867.35,45.33 L868.83,45.22 L870.31,45.12 L871.78,45.01 L873.26,44.91 L874.74,44.81 L876.22,44.71 L877.70,44.60 L879.18,44.50 L880.65,44.40 L882.13,44.31 L883.61,44.21 L885.09,44.11 L886.57,44.01 L888.05,43.92 L889.52,43.82 L891.00,43.73 L892.48,43.63 L893.96,43.54 L895.44,43.45 L896.92,43.36 L898.39,43.26 L899.87,43.17 L901.35,43.08 L902.83,43.00 L904.31,42.91 L905.79,42.82 L907.26,42.73 L908.74,42.64 L910.22,42.56 L911.70,42.47 L913.18,42.39 L914.66,42.30 L916.13,42.22 L917.61,42.14 L919.09,42.05 L920.57,41.97 L922.05,41.89 L923.53,41.81 L925.01,41.73 L926.48,41.65 L927.96,41.57 L929.44,41.49 L930.92,41.42 L932.40,41.34 L933.88,41.26 L935.35,41.19 L936.83,41.11 L938.31,41.03 L939.79,40.96 L941.27,40.89 L942.75,40.81 L944.22,40.74 L945.70,40.67 L947.18,40.59 L948.66,40.52 L950.14,40.45 L951.62,40.38 L953.09,40.31 L954.57,40.24 L956.05,40.17 L957.53,40.10 L959.01,40.03 L960.49,39.97 L961.96,39.90 L963.44,39.83 L964.92,39.77 L966.40,39.70 L967.88,39.63 L969.36,39.57 L970.83,39.50 L972.31,39.44 L973.79,39.38 L975.27,39.31 L976.75,39.25 L978.23,39.19 L979.70,39.13" fill="none" stroke="#0000ff" stroke-width="4.5" stroke-linejoin="round" stroke-dasharray="2.25 15.118"/>
<path d="M242.00,730.61 L243.48,726.04 L244.96,721.42 L246.44,716.75 L247.91,712.05 L249.39,707.30 L250.87,702.52 L252.35,697.71 L253.83,692.86 L255.31,687.97 L256.78,683.06 L258.26,678.12 L259.74,673.15 L261.22,668.16 L262.70,663.15 L264.18,658.12 L265.65,653.07 L267.13,648.00 L268.61,642.91 L270.09,637.82 L271.57,632.71 L273.05,627.59 L274.52,622.47 L276.00,617.34 L277.48,612.20 L278.96,607.07 L280.44,601.93 L281.92,596.79 L283.39,591.66 L284.87,586.53 L286.35,581.41 L287.83,576.29 L289.31,571.18 L290.79,566.08 L292.26,561.00 L293.74,555.92 L295.22,550.86 L296.70,545.82 L298.18,540.79 L299.66,535.78 L301.13,530.79 L302.61,525.82 L304.09,520.88 L305.57,515.95 L307.05,511.05 L308.53,506.17 L310.00,501.32 L311.48,496.49 L312.96,491.69 L314.44,486.92 L315.92,482.18 L317.40,477.47 L318.88,472.78 L320.35,468.13 L321.83,463.51 L323.31,458.92 L324.79,454.37 L326.27,449.85 L327.75,445.36 L329.22,440.90 L330.70,436.49 L332.18,432.10 L333.66,427.75 L335.14,423.44 L336.62,419.16 L338.09,414.92 L339.57,410.72 L341.05,406.55 L342.53,402.42 L344.01,398.33 L345.49,394.28 L346.96,390.26 L348.44,386.28 L349.92,382.34 L351.40,378.44 L352.88,374.57 L354.36,370.74 L355.83,366.95 L357.31,363.20 L358.79,359.49 L360.27,355.81 L361.75,352.18 L363.23,348.58 L364.70,345.01 L366.18,341.49 L367.66,338.00 L369.14,334.55 L370.62,331.14 L372.10,327.76 L373.57,324.42 L375.05,321.12 L376.53,317.86 L378.01,314.63 L379.49,311.43 L380.97,308.28 L382.44,305.15 L383.92,302.07 L385.40,299.02 L386.88,296.00 L388.36,293.02 L389.84,290.07 L391.31,287.16 L392.79,284.28 L394.27,281.44 L395.75,278.62 L397.23,275.85 L398.71,273.10 L400.19,270.39 L401.66,267.70 L403.14,265.05 L404.62,262.44 L406.10,259.85 L407.58,257.29 L409.06,254.77 L410.53,252.28 L412.01,249.81 L413.49,247.38 L414.97,244.97 L416.45,242.60 L417.93,240.25 L419.40,237.93 L420.88,235.64 L422.36,233.38 L423.84,231.14 L425.32,228.94 L426.80,226.76 L428.27,224.60 L429.75,222.48 L431.23,220.37 L432.71,218.30 L434.19,216.25 L435.67,214.22 L437.14,212.23 L438.62,210.25 L440.10,208.30 L441.58,206.37 L443.06,204.47 L444.54,202.59 L446.01,200.74 L447.49,198.90 L448.97,197.09 L450.45,195.30 L451.93,193.54 L453.41,191.79 L454.88,190.07 L456.36,188.37 L457.84,186.69 L459.32,185.03 L460.80,183.39 L462.28,181.77 L463.75,180.17 L465.23,178.59 L466.71,177.03 L468.19,175.49 L469.67,173.97 L471.15,172.46 L472.63,170.98 L474.10,169.51 L475.58,168.06 L477.06,166.63 L478.54,165.22 L480.02,163.82 L481.50,162.44 L482.97,161.08 L484.45,159.73 L485.93,158.40 L487.41,157.09 L488.89,155.79 L490.37,154.51 L491.84,153.24 L493.32,151.99 L494.80,150.75 L496.28,149.53 L497.76,148.33 L499.24,147.14 L500.71,145.96 L502.19,144.79 L503.67,143.65 L505.15,142.51 L506.63,141.39 L508.11,140.28 L509.58,139.18 L511.06,138.10 L512.54,137.03 L514.02,135.98 L515.50,134.93 L516.98,133.90 L518.45,132.88 L519.93,131.87 L521.41,130.88 L522.89,129.89 L524.37,128.92 L525.85,127.96 L527.32,127.01 L528.80,126.07 L530.28,125.14 L531.76,124.23 L533.24,123.32 L534.72,122.43 L536.19,121.54 L537.67,120.67 L539.15,119.80 L540.63,118.95 L542.11,118.10 L543.59,117.26 L545.07,116.44 L546.54,115.62 L548.02,114.82 L549.50,114.02 L550.98,113.23 L552.46,112.45 L553.94,111.68 L555.41,110.92 L556.89,110.16 L558.37,109.42 L559.85,108.68 L561.33,107.95 L562.81,107.23 L564.28,106.52 L565.76,105.82 L567.24,105.12 L568.72,104.43 L570.20,103.75 L571.68,103.08 L573.15,102.42 L574.63,101.76 L576.11,101.11 L577.59,100.46 L579.07,99.83 L580.55,99.20 L582.02,98.57 L583.50,97.96 L584.98,97.35 L586.46,96.74 L587.94,96.15 L589.42,95.56 L590.89,94.98 L592.37,94.40 L593.85,93.83 L595.33,93.26 L596.81,92.71 L598.29,92.15 L599.76,91.61 L601.24,91.07 L602.72,90.53 L604.20,90.00 L605.68,89.48 L607.16,88.96 L608.63,88.45 L610.11,87.94 L611.59,87.44 L613.07,86.94 L614.55,86.45 L616.03,85.96 L617.50,85.48 L618.98,85.01 L620.46,84.54 L621.94,84.07 L623.42,83.61 L624.90,83.15 L626.38,82.70 L627.85,82.25 L629.33,81.81 L630.81,81.37 L632.29,80.94 L633.77,80.51 L635.25,80.08 L636.72,79.66 L638.20,79.25 L639.68,78.84 L641.16,78.43 L642.64,78.02 L644.12,77.63 L645.59,77.23 L647.07,76.84 L648.55,76.45 L650.03,76.07 L651.51,75.69 L652.99,75.31 L654.46,74.94 L655.94,74.57 L657.42,74.20 L658.90,73.84 L660.38,73.48 L661.86,73.13 L663.33,72.78 L664.81,72.43 L666.29,72.09 L667.77,71.75 L669.25,71.41 L670.73,71.08 L672.20,70.74 L673.68,70.42 L675.16,70.09 L676.64,69.77 L678.12,69.45 L679.60,69.14 L681.07,68.83 L682.55,68.52 L684.03,68.21 L685.51,67.91 L686.99,67.61 L688.47,67.31 L689.94,67.01 L691.42,66.72 L692.90,66.43 L694.38,66.15 L695.86,65.86 L697.34,65.58 L698.82,65.30 L700.29,65.03 L701.77,64.75 L703.25,64.48 L704.73,64.21 L706.21,63.95 L707.69,63.69 L709.16,63.42 L710.64,63.17 L712.12,62.91 L713.60,62.66 L715.08,62.40 L716.56,62.16 L718.03,61.91 L719.51,61.66 L720.99,61.42 L722.47,61.18 L723.95,60.94 L725.43,60.71 L726.90,60.47 L728.38,60.24 L729.86,60.01 L731.34,59.78 L732.82,59.56 L734.30,59.34 L735.77,59.11 L737.25,58.89 L738.73,58.68 L740.21,58.46 L741.69,58.25 L743.17,58.04 L744.64,57.83 L746.12,57.62 L747.60,57.41 L749.08,57.21 L750.56,57.00 L752.04,56.80 L753.51,56.60 L754.99,56.41 L756.47,56.21 L757.95,56.02 L759.43,55.82 L760.91,55.63 L762.38,55.44 L763.86,55.26 L765.34,55.07 L766.82,54.89 L768.30,54.70 L769.78,54.52 L771.26,54.34 L772.73,54.16 L774.21,53.99 L775.69,53.81 L777.17,53.64 L778.65,53.47 L780.13,53.30 L781.60,53.13 L783.08,52.96 L784.56,52.79 L786.04,52.63 L787.52,52.46 L789.00,52.30 L790.47,52.14 L791.95,51.98 L793.43,51.82 L794.91,51.66 L796.39,51.51 L797.87,51.35 L799.34,51.20 L800.82,51.05 L802.30,50.90 L803.78,50.75 L805.26,50.60 L806.74,50.45 L808.21,50.31 L809.69,50.16 L811.17,50.02 L812.65,49.88 L814.13,49.74 L815.61,49.60 L817.08,49.46 L818.56,49.32 L820.04,49.18 L821.52,49.05 L823.00,48.91 L824.48,48.78 L825.95,48.65 L827.43,48.51 L828.91,48.38 L830.39,48.25 L831.87,48.13 L833.35,48.00 L834.82,47.87 L836.30,47.75 L837.78,47.62 L839.26,47.50 L840.74,47.38 L842.22,47.26 L843.70,47.14 L845.17,47.02 L846.65,46.90 L848.13,46.78 L849.61,46.66 L851.09,46.55 L852.57,46.43 L854.04,46.32 L855.52,46.20 L857.00,46.09 L858.48,45.98 L859.96,45.87 L861.44,45.76 L862.91,45.65 L864.39,45.54 L865.87,45.44 L867.35,45.33 L868.83,45.22 L870.31,45.12 L871.78,45.01 L873.26,44.91 L874.74,44.81 L876.22,44.71 L877.70,44.60 L879.18,44.50 L880.65,44.40 L882.13,44.31 L883.61,44.21 L885.09,44.11 L886.57,44.01 L888.05,43.92 L889.52,43.82 L891.00,43.73 L892.48,43.63 L893.96,43.54 L895.44,43.45 L896.92,43.36 L898.39,43.26 L899.87,43.17 L901.35,43.08 L902.83,43.00 L904.31,42.91 L905.79,42.82 L907.26,42.73 L908.74,42.64 L910.22,42.56 L911.70,42.47 L913.18,42.39 L914.66,42.30 L916.13,42.22 L917.61,42.14 L919.09,42.05 L920.57,41.97 L922.05,41.89 L923.53,41.81 L925.01,41.73 L926.48,41.65 L927.96,41.57 L929.44,41.49 L930.92,41.42 L932.40,41.34 L933.88,41.26 L935.35,41.19 L936.83,41.11 L938.31,41.03 L939.79,40.96 L941.27,40.89 L942.75,40.81 L944.22,40.74 L945.70,40.67 L947.18,40.59 L948.66,40.52 L950.14,40.45 L951.62,40.38 L953.09,40.31 L954.57,40.24 L956.05,40.17 L957.53,40.10 L959.01,40.03 L960.49,39.97 L961.96,39.90 L963.44,39.83 L964.92,39.77 L966.40,39.70 L967.88,39.63 L969.36,39.57 L970.83,39.50 L972.31,39.44 L973.79,39.38 L975.27,39.31 L976.75,39.25 L978.23,39.19 L979.70,39.13" fill="none" stroke="#000000" stroke-width="4.5" stroke-linejoin="round" stroke-dasharray="7.75 30.670"/>
<path d="M242.00,730.61 L243.48,726.04 L244.96,721.42 L246.44,716.75 L247.91,712.05 L249.39,707.30 L250.87,702.52 L252.35,697.71 L253.83,692.86 L255.31,687.97 L256.78,683.06 L258.26,678.12 L259.74,673.15 L261.22,668.16 L262.70,663.15 L264.18,658.12 L265.65,653.07 L267.13,648.00 L268.61,642.91 L270.09,637.82 L271.57,632.71 L273.05,627.59 L274.52,622.47 L276.00,617.34 L277.48,612.20 L278.96,607.07 L280.44,601.93 L281.92,596.79 L283.39,591.66 L284.87,586.53 L286.35,581.41 L287.83,576.29 L289.31,571.18 L290.79,566.08 L292.26,561.00 L293.74,555.92 L295.22,550.86 L296.70,545.82 L298.18,540.79 L299.66,535.78 L301.13,530.79 L302.61,525.82 L304.09,520.88 L305.57,515.95 L307.05,511.05 L308.53,506.17 L310.00,501.32 L311.48,496.49 L312.96,491.69 L314.44,486.92 L315.92,482.18 L317.40,477.47 L318.88,472.78 L320.35,468.13 L321.83,463.51 L323.31,458.92 L324.79,454.37 L326.27,449.85 L327.75,445.36 L329.22,440.90 L330.70,436.49 L332.18,432.10 L333.66,427.75 L335.14,423.44 L336.62,419.16 L338.09,414.92 L339.57,410.72 L341.05,406.55 L342.53,402.42 L344.01,398.33 L345.49,394.28 L346.96,390.26 L348.44,386.28 L349.92,382.34 L351.40,378.44 L352.88,374.57 L354.36,370.74 L355.83,366.95 L357.31,363.20 L358.79,359.49 L360.27,355.81 L361.75,352.18 L363.23,348.58 L364.70,345.01 L366.18,341.49 L367.66,338.00 L369.14,334.55 L370.62,331.14 L372.10,327.76 L373.57,324.42 L375.05,321.12 L376.53,317.86 L378.01,314.63 L379.49,311.43 L380.97,308.28 L382.44,305.15 L383.92,302.07 L385.40,299.02 L386.88,296.00 L388.36,293.02 L389.84,290.07 L391.31,287.16 L392.79,284.28 L394.27,281.44 L395.75,278.62 L397.23,275.85 L398.71,273.10 L400.19,270.39 L401.66,267.70 L403.14,265.05 L404.62,262.44 L406.10,259.85 L407.58,257.29 L409.06,254.77 L410.53,252.28 L412.01,249.81 L413.49,247.38 L414.97,244.97 L416.45,242.60 L417.93,240.25 L419.40,237.93 L420.88,235.64 L422.36,233.38 L423.84,231.14 L425.32,228.94 L426.80,226.76 L428.27,224.60 L429.75,222.48 L431.23,220.37 L432.71,218.30 L434.19,216.25 L435.67,214.22 L437.14,212.23 L438.62,210.25 L440.10,208.30 L441.58,206.37 L443.06,204.47 L444.54,202.59 L446.01,200.74 L447.49,198.90 L448.97,197.09 L450.45,195.30 L451.93,193.54 L453.41,191.79 L454.88,190.07 L456.36,188.37 L457.84,186.69 L459.32,185.03 L460.80,183.39 L462.28,181.77 L463.75,180.17 L465.23,178.59 L466.71,177.03 L468.19,175.49 L469.67,173.97 L471.15,172.46 L472.63,170.98 L474.10,169.51 L475.58,168.06 L477.06,166.63 L478.54,165.22 L480.02,163.82 L481.50,162.44 L482.97,161.08 L484.45,159.73 L485.93,158.40 L487.41,157.09 L488.89,155.79 L490.37,154.51 L491.84,153.24 L493.32,151.99 L494.80,150.75 L496.28,149.53 L497.76,148.33 L499.24,147.14 L500.71,145.96 L502.19,144.79 L503.67,143.65 L505.15,142.51 L506.63,141.39 L508.11,140.28 L509.58,139.18 L511.06,138.10 L512.54,137.03 L514.02,135.98 L515.50,134.93 L516.98,133.90 L518.45,132.88 L519.93,131.87 L521.41,130.88 L522.89,129.89 L524.37,128.92 L525.85,127.96 L527.32,127.01 L528.80,126.07 L530.28,125.14 L531.76,124.23 L533.24,123.32 L534.72,122.43 L536.19,121.54 L537.67,120.67 L539.15,119.80 L540.63,118.95 L542.11,118.10 L543.59,117.26 L545.07,116.44 L546.54,115.62 L548.02,114.82 L549.50,114.02 L550.98,113.23 L552.46,112.45 L553.94,111.68 L555.41,110.92 L556.89,110.16 L558.37,109.42 L559.85,108.68 L561.33,107.95 L562.81,107.23 L564.28,106.52 L565.76,105.82 L567.24,105.12 L568.72,104.43 L570.20,103.75 L571.68,103.08 L573.15,102.42 L574.63,101.76 L576.11,101.11 L577.59,100.46 L579.07,99.83 L580.55,99.20 L582.02,98.57 L583.50,97.96 L584.98,97.35 L586.46,96.74 L587.94,96.15 L589.42,95.56 L590.89,94.98 L592.37,94.40 L593.85,93.83 L595.33,93.26 L596.81,92.71 L598.29,92.15 L599.76,91.61 L601.24,91.07 L602.72,90.53 L604.20,90.00 L605.68,89.48 L607.16,88.96 L608.63,88.45 L610.11,87.94 L611.59,87.44 L613.07,86.94 L614.55,86.45 L616.03,85.96 L617.50,85.48 L618.98,85.01 L620.46,84.54 L621.94,84.07 L623.42,83.61 L624.90,83.15 L626.38,82.70 L627.85,82.25 L629.33,81.81 L630.81,81.37 L632.29,80.94 L633.77,80.51 L635.25,80.08 L636.72,79.66 L638.20,79.25 L639.68,78.84 L641.16,78.43 L642.64,78.02 L644.12,77.63 L645.59,77.23 L647.07,76.84 L648.55,76.45 L650.03,76.07 L651.51,75.69 L652.99,75.31 L654.46,74.94 L655.94,74.57 L657.42,74.20 L658.90,73.84 L660.38,73.48 L661.86,73.13 L663.33,72.78 L664.81,72.43 L666.29,72.09 L667.77,71.75 L669.25,71.41 L670.73,71.08 L672.20,70.74 L673.68,70.42 L675.16,70.09 L676.64,69.77 L678.12,69.45 L679.60,69.14 L681.07,68.83 L682.55,68.52 L684.03,68.21 L685.51,67.91 L686.99,67.61 L688.47,67.31 L689.94,67.01 L691.42,66.72 L692.90,66.43 L694.38,66.15 L695.86,65.86 L697.34,65.58 L698.82,65.30 L700.29,65.03 L701.77,64.75 L703.25,64.48 L704.73,64.21 L706.21,63.95 L707.69,63.69 L709.16,63.42 L710.64,63.17 L712.12,62.91 L713.60,62.66 L715.08,62.40 L716.56,62.16 L718.03,61.91 L719.51,61.66 L720.99,61.42 L722.47,61.18 L723.95,60.94 L725.43,60.71 L726.90,60.47 L728.38,60.24 L729.86,60.01 L731.34,59.78 L732.82,59.56 L734.30,59.34 L735.77,59.11 L737.25,58.89 L738.73,58.68 L740.21,58.46 L741.69,58.25 L743.17,58.04 L744.64,57.83 L746.12,57.62 L747.60,57.41 L749.08,57.21 L750.56,57.00 L752.04,56.80 L753.51,56.60 L754.99,56.41 L756.47,56.21 L757.95,56.02 L759.43,55.82 L760.91,55.63 L762.38,55.44 L763.86,55.26 L765.34,55.07 L766.82,54.89 L768.30,54.70 L769.78,54.52 L771.26,54.34 L772.73,54.16 L774.21,53.99 L775.69,53.81 L777.17,53.64 L778.65,53.47 L780.13,53.30 L781.60,53.13 L783.08,52.96 L784.56,52.79 L786.04,52.63 L787.52,52.46 L789.00,52.30 L790.47,52.14 L791.95,51.98 L793.43,51.82 L794.91,51.66 L796.39,51.51 L797.87,51.35 L799.34,51.20 L800.82,51.05 L802.30,50.90 L803.78,50.75 L805.26,50.60 L806.74,50.45 L808.21,50.31 L809.69,50.16 L811.17,50.02 L812.65,49.88 L814.13,49.74 L815.61,49.60 L817.08,49.46 L818.56,49.32 L820.04,49.18 L821.52,49.05 L823.00,48.91 L824.48,48.78 L825.95,48.65 L827.43,48.51 L828.91,48.38 L830.39,48.25 L831.87,48.13 L833.35,48.00 L834.82,47.87 L836.30,47.75 L837.78,47.62 L839.26,47.50 L840.74,47.38 L842.22,47.26 L843.70,47.14 L845.17,47.02 L846.65,46.90 L848.13,46.78 L849.61,46.66 L851.09,46.55 L852.57,46.43 L854.04,46.32 L855.52,46.20 L857.00,46.09 L858.48,45.98 L859.96,45.87 L861.44,45.76 L862.91,45.65 L864.39,45.54 L865.87,45.44 L867.35,45.33 L868.83,45.22 L870.31,45.12 L871.78,45.01 L873.26,44.91 L874.74,44.81 L876.22,44.71 L877.70,44.60 L879.18,44.50 L880.65,44.40 L882.13,44.31 L883.61,44.21 L885.09,44.11 L886.57,44.01 L888.05,43.92 L889.52,43.82 L891.00,43.73 L892.48,43.63 L893.96,43.54 L895.44,43.45 L896.92,43.36 L898.39,43.26 L899.87,43.17 L901.35,43.08 L902.83,43.00 L904.31,42.91 L905.79,42.82 L907.26,42.73 L908.74,42.64 L910.22,42.56 L911.70,42.47 L913.18,42.39 L914.66,42.30 L916.13,42.22 L917.61,42.14 L919.09,42.05 L920.57,41.97 L922.05,41.89 L923.53,41.81 L925.01,41.73 L926.48,41.65 L927.96,41.57 L929.44,41.49 L930.92,41.42 L932.40,41.34 L933.88,41.26 L935.35,41.19 L936.83,41.11 L938.31,41.03 L939.79,40.96 L941.27,40.89 L942.75,40.81 L944.22,40.74 L945.70,40.67 L947.18,40.59 L948.66,40.52 L950.14,40.45 L951.62,40.38 L953.09,40.31 L954.57,40.24 L956.05,40.17 L957.53,40.10 L959.01,40.03 L960.49,39.97 L961.96,39.90 L963.44,39.83 L964.92,39.77 L966.40,39.70 L967.88,39.63 L969.36,39.57 L970.83,39.50 L972.31,39.44 L973.79,39.38 L975.27,39.31 L976.75,39.25 L978.23,39.19 L979.70,39.13" fill="none" stroke="#000000" stroke-width="4.5" stroke-linejoin="round" stroke-dasharray="2.25 30.486"/>
<path d="M701.1,160.25H776.9" fill="none" stroke="#ff0000" stroke-width="4.45" stroke-linecap="square"/>
<text transform="translate(796.00,171.00) scale(1.02,1.0)" font-size="30" fill="#000" font-style="italic">ϵ</text>
<text transform="translate(811.16,171.40) scale(0.9,0.835)" font-size="32" fill="#000" stroke="#000" stroke-width="0.8">=</text>
<text transform="translate(828.67,171.00) scale(1.015,1.053)" font-size="32" fill="#000">0</text>
<path d="M701.1,221.7H776.9" fill="none" stroke="#ff8000" stroke-width="4.45" stroke-dasharray="7 3.21"/>
<text transform="translate(796.00,232.00) scale(1.02,1.0)" font-size="30" fill="#000" font-style="italic">ϵ</text>
<text transform="translate(811.16,232.40) scale(0.9,0.835)" font-size="32" fill="#000" stroke="#000" stroke-width="0.8">=</text>
<g transform="translate(828.47,232.00) scale(1.0650,1.0480)"><text font-size="32" fill="#000" clip-path="url(#c1)">1</text><rect x="7.47" y="-5.2" width="4.39" height="5.2" fill="#000"/></g>
<text transform="translate(846.20,232.00) scale(1.015,1.053)" font-size="32" fill="#000">0</text>
<text transform="translate(863.95,221.05) scale(0.92,1.04)" font-size="22.4" fill="#000">−</text>
<text transform="translate(875.00,218.00) scale(1.035,1.06)" font-size="22.4" fill="#000">7</text>
<path d="M701.1,283.0H776.9" fill="none" stroke="#ff8000" stroke-width="4.45" stroke-dasharray="2.3 3.086"/>
<text transform="translate(796.00,294.00) scale(1.02,1.0)" font-size="30" fill="#000" font-style="italic">ϵ</text>
<text transform="translate(811.16,294.40) scale(0.9,0.835)" font-size="32" fill="#000" stroke="#000" stroke-width="0.8">=</text>
<text transform="translate(828.38,296.40) scale(0.956,1.057)" font-size="32" fill="#000">−</text>
<g transform="translate(845.97,294.00) scale(1.0650,1.0480)"><text font-size="32" fill="#000" clip-path="url(#c1)">1</text><rect x="7.47" y="-5.2" width="4.39" height="5.2" fill="#000"/></g>
<text transform="translate(863.70,294.00) scale(1.015,1.053)" font-size="32" fill="#000">0</text>
<text transform="translate(881.25,283.05) scale(0.92,1.04)" font-size="22.4" fill="#000">−</text>
<text transform="translate(893.00,280.00) scale(1.035,1.06)" font-size="22.4" fill="#000">7</text>
<path d="M701.1,344.7H776.9" fill="none" stroke="#0000ff" stroke-width="4.45" stroke-dasharray="7 13.41"/>
<text transform="translate(796.00,355.00) scale(1.02,1.0)" font-size="30" fill="#000" font-style="italic">ϵ</text>
<text transform="translate(811.16,355.40) scale(0.9,0.835)" font-size="32" fill="#000" stroke="#000" stroke-width="0.8">=</text>
<g transform="translate(828.47,355.00) scale(1.0650,1.0480)"><text font-size="32" fill="#000" clip-path="url(#c1)">1</text><rect x="7.47" y="-5.2" width="4.39" height="5.2" fill="#000"/></g>
<text transform="translate(846.20,355.00) scale(1.015,1.053)" font-size="32" fill="#000">0</text>
<text transform="translate(863.95,344.05) scale(0.92,1.04)" font-size="22.4" fill="#000">−</text>
<text transform="translate(875.00,341.00) scale(1.035,1.06)" font-size="22.4" fill="#000">6</text>
<path d="M701.1,406.3H776.9" fill="none" stroke="#0000ff" stroke-width="4.45" stroke-dasharray="2.3 13.29"/>
<text transform="translate(796.00,417.00) scale(1.02,1.0)" font-size="30" fill="#000" font-style="italic">ϵ</text>
<text transform="translate(811.16,417.40) scale(0.9,0.835)" font-size="32" fill="#000" stroke="#000" stroke-width="0.8">=</text>
<text transform="translate(828.38,419.40) scale(0.956,1.057)" font-size="32" fill="#000">−</text>
<g transform="translate(845.97,417.00) scale(1.0650,1.0480)"><text font-size="32" fill="#000" clip-path="url(#c1)">1</text><rect x="7.47" y="-5.2" width="4.39" height="5.2" fill="#000"/></g>
<text transform="translate(863.70,417.00) scale(1.015,1.053)" font-size="32" fill="#000">0</text>
<text transform="translate(881.25,406.05) scale(0.92,1.04)" font-size="22.4" fill="#000">−</text>
<text transform="translate(893.00,403.00) scale(1.035,1.06)" font-size="22.4" fill="#000">6</text>
<path d="M701.1,467.8H776.9" fill="none" stroke="#000000" stroke-width="4.45" stroke-dasharray="7 27.02"/>
<text transform="translate(796.00,478.00) scale(1.02,1.0)" font-size="30" fill="#000" font-style="italic">ϵ</text>
<text transform="translate(811.16,478.40) scale(0.9,0.835)" font-size="32" fill="#000" stroke="#000" stroke-width="0.8">=</text>
<g transform="translate(828.47,478.00) scale(1.0650,1.0480)"><text font-size="32" fill="#000" clip-path="url(#c1)">1</text><rect x="7.47" y="-5.2" width="4.39" height="5.2" fill="#000"/></g>
<text transform="translate(846.20,478.00) scale(1.015,1.053)" font-size="32" fill="#000">0</text>
<text transform="translate(863.95,467.05) scale(0.92,1.04)" font-size="22.4" fill="#000">−</text>
<text transform="translate(875.00,464.00) scale(1.035,1.06)" font-size="22.4" fill="#000">5</text>
<path d="M701.1,529.1H776.9" fill="none" stroke="#000000" stroke-width="4.45" stroke-dasharray="2.3 26.91"/>
<text transform="translate(796.00,540.00) scale(1.02,1.0)" font-size="30" fill="#000" font-style="italic">ϵ</text>
<text transform="translate(811.16,540.40) scale(0.9,0.835)" font-size="32" fill="#000" stroke="#000" stroke-width="0.8">=</text>
<text transform="translate(828.38,542.40) scale(0.956,1.057)" font-size="32" fill="#000">−</text>
<g transform="translate(845.97,540.00) scale(1.0650,1.0480)"><text font-size="32" fill="#000" clip-path="url(#c1)">1</text><rect x="7.47" y="-5.2" width="4.39" height="5.2" fill="#000"/></g>
<text transform="translate(863.70,540.00) scale(1.015,1.053)" font-size="32" fill="#000">0</text>
<text transform="translate(881.25,529.05) scale(0.92,1.04)" font-size="22.4" fill="#000">−</text>
<text transform="translate(893.00,526.00) scale(1.035,1.06)" font-size="22.4" fill="#000">5</text>
</svg>
</body></html>
